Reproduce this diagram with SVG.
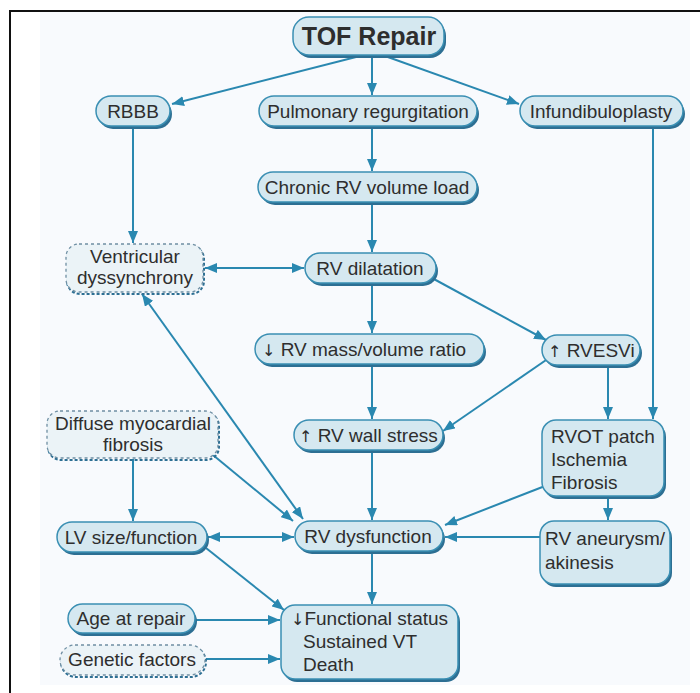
<svg xmlns="http://www.w3.org/2000/svg" width="700" height="693" viewBox="0 0 700 693">
<defs>
<style>
text{font-family:"Liberation Sans",Arial,sans-serif;font-size:19px;fill:#2e2e2e}
.c{text-anchor:middle}
.t{font-size:25px;font-weight:bold}
.n{fill:#d5e8f0;stroke:#3a8fb3;stroke-width:1.5}
.s{fill:#2d6f93;stroke:none}
.d{fill:#ebf3f7;stroke:#6f8fa3;stroke-width:1.3;stroke-dasharray:3 3}
.ds{fill:none;stroke:#2d6f93;stroke-width:2;stroke-dasharray:3 2}
.e{fill:none;stroke:#2a88b0;stroke-width:2}
.ar{font-family:"DejaVu Sans",sans-serif;font-size:16px}
</style>
<marker id="a" markerUnits="userSpaceOnUse" markerWidth="12" markerHeight="10" refX="12" refY="5" orient="auto-start-reverse" viewBox="0 0 12 10">
<path d="M0,0 L12,5 L0,10 z" fill="#2a88b0"/>
</marker>
</defs>
<rect x="0" y="0" width="700" height="693" fill="#ffffff"/>
<rect x="40" y="12" width="650" height="673" fill="#f8fafd"/>
<path d="M10,693 L10,11 L700,11" fill="none" stroke="#111" stroke-width="2"/>

<g id="edges">
<path class="e" d="M360,56 L172,104" marker-end="url(#a)"/>
<path class="e" d="M372,56 L372,95" marker-end="url(#a)"/>
<path class="e" d="M385,56 L519,104" marker-end="url(#a)"/>
<path class="e" d="M133,127 L133,243" marker-end="url(#a)"/>
<path class="e" d="M372,127 L372,171" marker-end="url(#a)"/>
<path class="e" d="M372,203 L372,252" marker-end="url(#a)"/>
<path class="e" d="M205,268 L304,268" marker-start="url(#a)" marker-end="url(#a)"/>
<path class="e" d="M372,284 L372,333" marker-end="url(#a)"/>
<path class="e" d="M432,278 L546,340" marker-end="url(#a)"/>
<path class="e" d="M608,366 L608,419" marker-end="url(#a)"/>
<path class="e" d="M653,127 L653,419" marker-end="url(#a)"/>
<path class="e" d="M372,365 L372,419" marker-end="url(#a)"/>
<path class="e" d="M549,358 L443,431" marker-end="url(#a)"/>
<path class="e" d="M142,294 L303,519" marker-start="url(#a)" marker-end="url(#a)"/>
<path class="e" d="M133,459 L133,521" marker-end="url(#a)"/>
<path class="e" d="M213,455 L293,521" marker-end="url(#a)"/>
<path class="e" d="M208,537 L294,537" marker-start="url(#a)" marker-end="url(#a)"/>
<path class="e" d="M372,451 L372,520" marker-end="url(#a)"/>
<path class="e" d="M545,486 L445,525" marker-end="url(#a)"/>
<path class="e" d="M608,497 L608,520" marker-end="url(#a)"/>
<path class="e" d="M540,537 L445,537" marker-end="url(#a)"/>
<path class="e" d="M372,552 L372,604" marker-end="url(#a)"/>
<path class="e" d="M206,548 L284,610" marker-end="url(#a)"/>
<path class="e" d="M196,620 L280,620" marker-end="url(#a)"/>
<path class="e" d="M206,659 L280,659" marker-end="url(#a)"/>
</g>

<g id="tof">
<rect class="s" x="295" y="20" width="151" height="38" rx="16"/>
<rect class="n" x="293" y="17" width="151" height="38" rx="16"/>
<text class="c t" x="369" y="45">TOF Repair</text>
</g>
<g id="rbbb">
<rect class="s" x="98" y="99" width="74" height="30" rx="15"/>
<rect class="n" x="96" y="96" width="74" height="30" rx="15"/>
<text class="c" x="133" y="118">RBBB</text>
</g>
<g id="pulm">
<rect class="s" x="261" y="99" width="218" height="30" rx="15"/>
<rect class="n" x="259" y="96" width="218" height="30" rx="15"/>
<text class="c" x="368" y="118">Pulmonary regurgitation</text>
</g>
<g id="infund">
<rect class="s" x="522" y="99" width="163" height="30" rx="15"/>
<rect class="n" x="520" y="96" width="163" height="30" rx="15"/>
<text class="c" x="601" y="118">Infundibuloplasty</text>
</g>
<g id="chronic">
<rect class="s" x="260" y="175" width="219" height="30" rx="15"/>
<rect class="n" x="258" y="172" width="219" height="30" rx="15"/>
<text class="c" x="367" y="194">Chronic RV volume load</text>
</g>
<g id="vdys">
<rect class="ds" x="67" y="246" width="137" height="48" rx="13"/>
<rect class="d" x="66" y="244" width="137" height="48" rx="13"/>
<text class="c" x="135" y="263">Ventricular</text>
<text class="c" x="135" y="284">dyssynchrony</text>
</g>
<g id="rvdil">
<rect class="s" x="307" y="256" width="131" height="30" rx="15"/>
<rect class="n" x="305" y="253" width="131" height="30" rx="15"/>
<text class="c" x="370" y="275">RV dilatation</text>
</g>
<g id="rvmass">
<rect class="s" x="257" y="337" width="229" height="30" rx="15"/>
<rect class="n" x="255" y="334" width="229" height="30" rx="15"/>
<text x="262" y="356"><tspan class="ar">↓</tspan> RV mass/volume ratio</text>
</g>
<g id="rvesvi">
<rect class="s" x="544" y="338" width="98" height="30" rx="15"/>
<rect class="n" x="542" y="335" width="98" height="30" rx="15"/>
<text x="548" y="357"><tspan class="ar">↑</tspan> RVESVi</text>
</g>
<g id="diffuse">
<rect class="ds" x="48" y="413" width="171" height="47" rx="13"/>
<rect class="d" x="47" y="411" width="171" height="47" rx="13"/>
<text class="c" x="133" y="430">Diffuse myocardial</text>
<text class="c" x="133" y="451">fibrosis</text>
</g>
<g id="wall">
<rect class="s" x="296" y="423" width="149" height="30" rx="15"/>
<rect class="n" x="294" y="420" width="149" height="30" rx="15"/>
<text x="299" y="442"><tspan class="ar">↑</tspan> RV wall stress</text>
</g>
<g id="rvot">
<rect class="s" x="544" y="423" width="122" height="76" rx="14"/>
<rect class="n" x="542" y="420" width="122" height="76" rx="14"/>
<text x="551" y="443">RVOT patch</text>
<text x="551" y="466">Ischemia</text>
<text x="551" y="489">Fibrosis</text>
</g>
<g id="lv">
<rect class="s" x="59" y="525" width="150" height="30" rx="15"/>
<rect class="n" x="57" y="522" width="150" height="30" rx="15"/>
<text class="c" x="131" y="544">LV size/function</text>
</g>
<g id="rvdys">
<rect class="s" x="297" y="524" width="148" height="30" rx="15"/>
<rect class="n" x="295" y="521" width="148" height="30" rx="15"/>
<text class="c" x="368" y="543">RV dysfunction</text>
</g>
<g id="aneurysm">
<rect class="s" x="542" y="524" width="130" height="63" rx="14"/>
<rect class="n" x="540" y="521" width="130" height="63" rx="14"/>
<text x="545" y="545">RV aneurysm/</text>
<text x="545" y="569">akinesis</text>
</g>
<g id="age">
<rect class="s" x="70" y="607" width="127" height="29" rx="14.5"/>
<rect class="n" x="68" y="604" width="127" height="29" rx="14.5"/>
<text class="c" x="131" y="625">Age at repair</text>
</g>
<g id="genetic">
<rect class="ds" x="61" y="647" width="145" height="30" rx="15"/>
<rect class="d" x="60" y="645" width="145" height="30" rx="15"/>
<text class="c" x="132" y="666">Genetic factors</text>
</g>
<g id="functional">
<rect class="s" x="283" y="608" width="177" height="74" rx="14"/>
<rect class="n" x="281" y="605" width="177" height="74" rx="14"/>
<text x="291" y="625"><tspan class="ar">↓</tspan>Functional status</text>
<text x="303" y="648">Sustained VT</text>
<text x="303" y="671">Death</text>
</g>
</svg>
